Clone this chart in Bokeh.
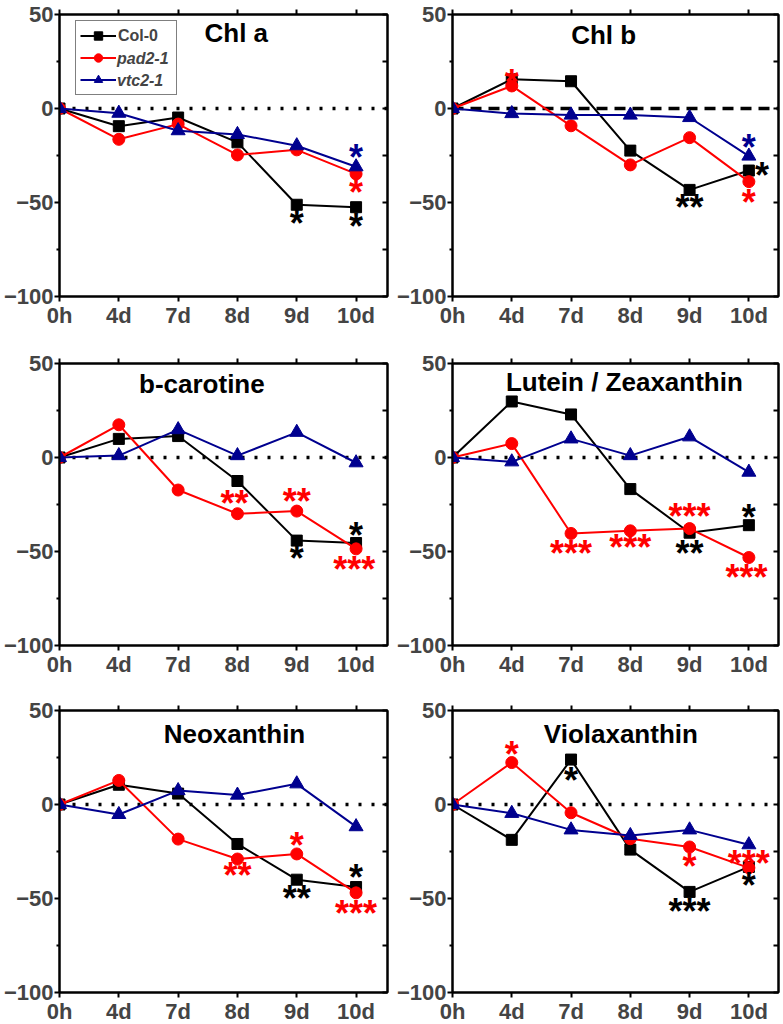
from bokeh.plotting import figure
from bokeh.layouts import column, row
from bokeh.models import Range1d, FixedTicker, LinearAxis, Span, Legend, LegendItem
from bokeh.core.properties import value
from bokeh.embed import file_html
from bokeh.resources import INLINE

# ---------------- data ----------------
days = ["0h", "4d", "7d", "8d", "9d", "10d"]
series_names = ["Col-0", "pad2-1", "vtc2-1"]
series_colors = ["black", "#ff0000", "#00008f"]
series_markers = ["square", "circle", "triangle"]

panel_titles = ["Chl a", "Chl b", "b-carotine", "Lutein / Zeaxanthin", "Neoxanthin", "Violaxanthin"]

chla_col0 = [0, -9.4, -4.8, -18.0, -51.2, -52.5]
chla_pad2 = [0, -16.4, -8.3, -24.7, -22.0, -34.8]
chla_vtc2 = [0, -2.5, -11.8, -13.8, -19.8, -31.0]

chlb_col0 = [0, 15.5, 14.5, -22.4, -43.3, -33.0]
chlb_pad2 = [0, 12.0, -9.2, -30.0, -15.5, -38.9]
chlb_vtc2 = [0, -2.7, -3.5, -3.5, -4.8, -25.3]

bcar_col0 = [0, 9.9, 11.4, -12.5, -44.2, -45.5]
bcar_pad2 = [0, 17.4, -17.3, -29.9, -28.5, -48.6]
bcar_vtc2 = [0, 1.0, 14.8, 1.0, 13.4, -2.8]

lut_col0 = [0, 29.8, 22.9, -16.8, -40.0, -36.0]
lut_pad2 = [0, 7.4, -40.4, -39.0, -37.8, -53.2]
lut_vtc2 = [0, -2.3, 9.9, 1.0, 11.0, -7.8]

neo_col0 = [0, 10.5, 5.8, -21.0, -40.0, -43.9]
neo_pad2 = [0, 12.8, -18.4, -29.0, -26.3, -47.0]
neo_vtc2 = [0, -5.3, 7.4, 5.0, 11.0, -11.8]

vio_col0 = [0, -18.8, 23.9, -24.0, -46.5, -33.2]
vio_pad2 = [0, 22.3, -4.4, -18.2, -22.6, -33.7]
vio_vtc2 = [0, -4.7, -13.5, -16.5, -13.5, -21.4]

# significance marks: position along x (category index), y value, text, series index
chla_star_x = [4, 5, 5, 5]
chla_star_y = [-57.4, -59.0, -41.0, -22.5]
chla_star_t = ["*", "*", "*", "*"]
chla_star_s = [0, 0, 1, 2]

chlb_star_x = [1, 4, 5.22, 5, 5]
chlb_star_y = [17.7, -49.0, -32.0, -46.5, -16.8]
chlb_star_t = ["*", "**", "*", "*", "*"]
chlb_star_s = [1, 0, 0, 1, 2]

bcar_star_x = [2.95, 4, 4, 5, 4.97]
bcar_star_y = [-20.8, -19.9, -49.8, -37.5, -55.6]
bcar_star_t = ["**", "**", "*", "*", "***"]
bcar_star_s = [1, 1, 0, 0, 1]

lut_star_x = [2, 3, 4, 4, 5, 4.96]
lut_star_y = [-47.5, -44.0, -27.7, -47.5, -28.0, -60.0]
lut_star_t = ["***", "***", "***", "**", "*", "***"]
lut_star_s = [1, 1, 1, 0, 0, 1]

neo_star_x = [3, 4, 4, 5, 5]
neo_star_y = [-34.2, -18.0, -46.5, -35.0, -54.0]
neo_star_t = ["**", "*", "**", "*", "***"]
neo_star_s = [1, 1, 0, 0, 1]

vio_star_x = [1, 2, 4, 4, 5, 5]
vio_star_y = [30.4, 16.3, -29.3, -53.3, -27.5, -39.3]
vio_star_t = ["*", "*", "*", "***", "***", "*"]
vio_star_s = [1, 0, 1, 0, 1, 0]

panel_series = [
    (chla_col0, chla_pad2, chla_vtc2),
    (chlb_col0, chlb_pad2, chlb_vtc2),
    (bcar_col0, bcar_pad2, bcar_vtc2),
    (lut_col0, lut_pad2, lut_vtc2),
    (neo_col0, neo_pad2, neo_vtc2),
    (vio_col0, vio_pad2, vio_vtc2),
]
panel_stars = [
    (chla_star_x, chla_star_y, chla_star_t, chla_star_s),
    (chlb_star_x, chlb_star_y, chlb_star_t, chlb_star_s),
    (bcar_star_x, bcar_star_y, bcar_star_t, bcar_star_s),
    (lut_star_x, lut_star_y, lut_star_t, lut_star_s),
    (neo_star_x, neo_star_y, neo_star_t, neo_star_s),
    (vio_star_x, vio_star_y, vio_star_t, vio_star_s),
]
# title anchor (x in category units, y in data units)
title_x = [2.98, 2.55, 2.4, 2.9, 2.95, 2.84]
title_y = [39.9, 38.9, 39.1, 40.0, 37.4, 37.4]

y_ticks = [-100, -50, 0, 50]
y_minor = [-75, -25, 25]
right_ticks = [-100, -75, -50, -25, 0, 25, 50]

FONT = "Liberation Sans"
x_idx = list(range(len(days)))

# layout geometry (page has no body margin)
FRAME_H = 282
tops = [14, 33, 31]
bottoms = [33, 32, 33]


def make_panel(k):
    r, c = divmod(k, 2)
    if c == 0:
        w, bl, br, xend = 393, 57, 6, 5.53
    else:
        w, bl, br, xend = 388, 52, 3, 5.5
    p = figure(width=w, frame_height=FRAME_H,
               x_range=Range1d(0, xend), y_range=Range1d(-100, 50),
               output_backend="svg", toolbar_location=None,
               min_border_left=bl, min_border_right=br,
               min_border_top=tops[r], min_border_bottom=bottoms[r],
               background_fill_color="white", border_fill_color="white")
    p.grid.visible = False
    p.outline_line_color = "black"
    p.outline_line_width = 2

    # bottom axis (categories)
    xa = p.xaxis[0]
    xa.ticker = FixedTicker(ticks=x_idx)
    xa.major_label_overrides = {i: d for i, d in zip(x_idx, days)}
    xa.major_label_text_font = FONT
    xa.major_label_text_font_style = "bold"
    xa.major_label_text_font_size = "22px"
    xa.major_label_standoff = 1
    xa.axis_line_width = 2
    xa.major_tick_line_width = 2
    xa.major_tick_out = 5
    xa.major_tick_in = 0
    xa.minor_tick_line_color = None
    xa.minor_tick_out = 0

    ya = p.yaxis[0]
    ya.ticker = FixedTicker(ticks=y_ticks, minor_ticks=y_minor)
    ya.major_label_text_font = FONT
    ya.major_label_text_font_style = "bold"
    ya.major_label_text_font_size = "22px"
    ya.major_label_standoff = 1
    ya.axis_line_width = 2
    ya.major_tick_line_width = 2
    ya.minor_tick_line_width = 2
    ya.major_tick_out = 5
    ya.major_tick_in = 0
    ya.minor_tick_out = 3
    ya.minor_tick_in = 0

    top = LinearAxis(ticker=FixedTicker(ticks=x_idx), major_label_text_font_size="0px",
                     major_label_text_color=None,
                     major_label_standoff=0, axis_line_width=2, major_tick_line_width=2,
                     major_tick_out=5, major_tick_in=0, minor_tick_line_color=None,
                     minor_tick_out=0, minor_tick_in=0)
    p.add_layout(top, "above")
    right = LinearAxis(ticker=FixedTicker(ticks=right_ticks), major_label_text_font_size="0px",
                       major_label_text_color=None,
                       major_label_standoff=0, axis_line_width=2, major_tick_line_width=2,
                       major_tick_out=0, major_tick_in=5, minor_tick_line_color=None,
                       minor_tick_out=0, minor_tick_in=0)
    p.add_layout(right, "right")

    dash = "11 7" if k == 1 else "3 10"
    p.add_layout(Span(location=0, dimension="width", line_color="black",
                      line_width=3.5, line_dash=dash, level="underlay"))

    rends = []
    for s, ys in enumerate(panel_series[k]):
        col = series_colors[s]
        ln = p.line(x_idx, ys, line_color=col, line_width=2)
        sz = {"square": 11, "circle": 12, "triangle": 14}[series_markers[s]]
        sc = p.scatter(x_idx, ys, marker=series_markers[s], size=sz,
                       fill_color=col, line_color=col)
        rends.append((ln, sc))

    sx, sy, st, ss = panel_stars[k]
    p.text(x=sx, y=sy, text=st, text_color=[series_colors[i] for i in ss],
           text_font=value(FONT), text_font_style="bold", text_font_size="36px",
           text_align="center", text_baseline="alphabetic", y_offset=7)

    p.text(x=[title_x[k]], y=[title_y[k]], text=[panel_titles[k]],
           text_font=value(FONT), text_font_style="bold", text_font_size="26px",
           text_align="center", text_baseline="middle", text_color="black")

    if k == 0:
        common = dict(location=(16, FRAME_H - 8 - 73), glyph_width=36, glyph_height=21,
                      label_height=21, label_standoff=2, padding=4, spacing=1, margin=0,
                      label_text_font=FONT, label_text_font_size="16px",
                      orientation="vertical")
        items_a = [LegendItem(label=series_names[0], renderers=list(rends[0])),
                   LegendItem(label=" ", renderers=list(rends[1])),
                   LegendItem(label=" ", renderers=list(rends[2]))]
        leg_a = Legend(items=items_a, label_width=54, label_text_font_style="bold",
                       border_line_color="black", border_line_width=1.5,
                       background_fill_color="white", background_fill_alpha=1.0, **common)
        dummy = p.line([], [], line_alpha=0)
        items_b = [LegendItem(label=" ", renderers=[dummy]),
                   LegendItem(label=series_names[1], renderers=[dummy]),
                   LegendItem(label=series_names[2], renderers=[dummy])]
        leg_b = Legend(items=items_b, label_width=54, label_text_font_style="bold italic",
                       border_line_alpha=0, background_fill_alpha=0, **common)
        p.add_layout(leg_a)
        p.add_layout(leg_b)
    return p


panels = [make_panel(k) for k in range(6)]
layout = column(row(panels[0], panels[1]), row(panels[2], panels[3]), row(panels[4], panels[5]))

open("out.html", "w").write(file_html(layout, INLINE))
